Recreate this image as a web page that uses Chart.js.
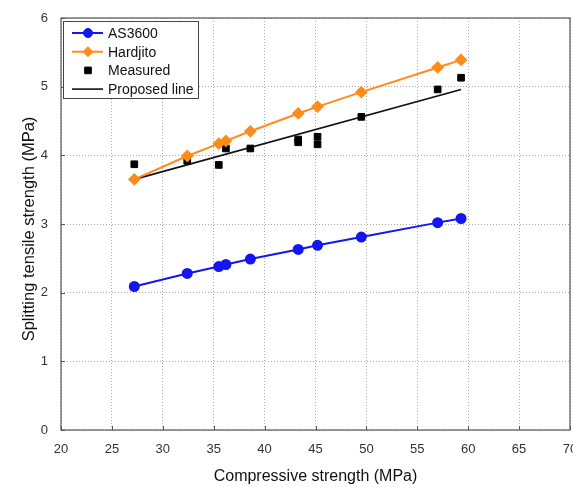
<!DOCTYPE html>
<html>
<head>
<meta charset="utf-8">
<script src="https://cdn.jsdelivr.net/npm/chart.js@4"></script>
<style>
  html, body { margin: 0; padding: 0; background: #fff; }
  #wrap { width: 573px; height: 487px; }
</style>
</head>
<body>
<div id="wrap"><canvas id="c" width="573" height="487"></canvas></div>
<script>
// 数据
const strength = [27.2, 32.4, 35.5, 36.2, 38.6, 43.3, 45.2, 49.5, 57.0, 59.3];
const as3600 = [2.09, 2.28, 2.38, 2.41, 2.49, 2.63, 2.69, 2.81, 3.02, 3.08];
const hardjito = [3.65, 3.99, 4.17, 4.21, 4.35, 4.61, 4.71, 4.92, 5.28, 5.39];
const measuredX = [27.2, 32.4, 35.5, 36.2, 38.6, 43.3, 43.3, 45.2, 45.2, 49.5, 57.0, 59.3];
const measuredY = [3.87, 3.92, 3.86, 4.10, 4.10, 4.23, 4.19, 4.27, 4.16, 4.56, 4.96, 5.13];
const proposedX = [27.2, 59.3];
const proposedY = [3.65, 4.96];
const xTicks = [20, 25, 30, 35, 40, 45, 50, 55, 60, 65, 70];
const yTicks = [0, 1, 2, 3, 4, 5, 6];
const yTitle = 'Splitting tensile strength (MPa)';

const FONT = '"Liberation Sans", Arial, sans-serif';

function pts(xs, ys) {
  return xs.map((x, i) => ({ x: x, y: ys[i] }));
}

// 去掉刻度标签带来的额外留白
function noPad(s) {
  s.paddingLeft = 0; s.paddingRight = 0;
  s.paddingTop = 0; s.paddingBottom = 0;
}

// 图框、刻度、纵轴标题和图例
const framePlugin = {
  id: 'frame',
  afterDraw(chart) {
    const ctx = chart.ctx;
    const a = chart.chartArea;
    const xs = chart.scales.x, ys = chart.scales.y;
    ctx.save();
    ctx.strokeStyle = '#555';
    ctx.lineWidth = 1.2;
    ctx.strokeRect(a.left, a.top, a.right - a.left, a.bottom - a.top);
    ctx.lineWidth = 1;
    ctx.beginPath();
    xTicks.forEach(v => {
      const px = Math.round(xs.getPixelForValue(v)) + 0.5;
      ctx.moveTo(px, a.bottom); ctx.lineTo(px, a.bottom - 4);
    });
    yTicks.forEach(v => {
      const py = Math.round(ys.getPixelForValue(v)) + 0.5;
      ctx.moveTo(a.left, py); ctx.lineTo(a.left + 4, py);
    });
    ctx.stroke();

    // 纵轴标题
    ctx.save();
    ctx.translate(29, 229);
    ctx.rotate(-Math.PI / 2);
    ctx.font = '16.5px ' + FONT;
    ctx.fillStyle = '#111';
    ctx.textAlign = 'center';
    ctx.textBaseline = 'middle';
    ctx.fillText(yTitle, 0, 0);
    ctx.restore();

    // 图例
    const lx = 63, ly = 21, lw = 135, lh = 77, rowH = 18.7;
    ctx.fillStyle = '#fff';
    ctx.fillRect(lx, ly, lw, lh);
    ctx.strokeStyle = '#444';
    ctx.strokeRect(lx + 0.5, ly + 0.5, lw, lh);
    ctx.font = '14px ' + FONT;
    ctx.textBaseline = 'middle';
    chart.data.datasets.forEach((ds, i) => {
      const cy = ly + 12 + i * rowH;
      if (ds.showLine !== false) {
        ctx.strokeStyle = ds.borderColor;
        ctx.lineWidth = ds.borderWidth;
        ctx.beginPath();
        ctx.moveTo(lx + 9, cy); ctx.lineTo(lx + 40, cy);
        ctx.stroke();
      }
      if (ds.pointRadius > 0) {
        ctx.fillStyle = ds.pointBackgroundColor;
        ctx.strokeStyle = ds.pointBorderColor;
        ctx.lineWidth = 1;
        Chart.helpers.drawPoint(ctx, { pointStyle: ds.pointStyle, radius: ds.pointRadius, borderWidth: 1 }, lx + 25, cy);
      }
      ctx.fillStyle = '#111';
      ctx.fillText(ds.label, lx + 45, cy + 1);
    });
    ctx.restore();
  }
};

new Chart(document.getElementById('c'), {
  type: 'scatter',
  data: {
    datasets: [
      {
        label: 'AS3600', data: pts(strength, as3600), showLine: true,
        borderColor: '#1515f0', borderWidth: 2,
        pointStyle: 'circle', pointRadius: 4.5,
        pointBackgroundColor: '#1515f0', pointBorderColor: '#1515f0'
      },
      {
        label: 'Hardjito', data: pts(strength, hardjito), showLine: true,
        borderColor: '#ff8c1a', borderWidth: 2,
        pointStyle: 'rectRot', pointRadius: 5,
        pointBackgroundColor: '#ff8c1a', pointBorderColor: '#ff8c1a'
      },
      {
        label: 'Measured', data: pts(measuredX, measuredY), showLine: false,
        borderColor: '#000', borderWidth: 1,
        pointStyle: 'rect', pointRadius: 4.7,
        pointBackgroundColor: '#000', pointBorderColor: '#000'
      },
      {
        label: 'Proposed line', data: pts(proposedX, proposedY), showLine: true,
        borderColor: '#111', borderWidth: 1.6,
        pointRadius: 0, pointStyle: false
      }
    ]
  },
  options: {
    responsive: false,
    animation: false,
    layout: { autoPadding: false, padding: { top: 18, right: 3, left: 0, bottom: 0 } },
    plugins: { legend: { display: false }, tooltip: { enabled: false } },
    scales: {
      x: {
        type: 'linear', min: 20, max: 70,
        afterBuildTicks(s) { s.ticks = xTicks.map(v => ({ value: v })); },
        afterFit(s) { s.height = 57; noPad(s); },
        grid: { color: '#aaa', drawTicks: false },
        border: { display: false, dash: [1, 2] },
        ticks: { font: { size: 13, family: FONT }, color: '#333', padding: 12 },
        title: {
          display: true, text: 'Compressive strength (MPa)',
          font: { size: 16, family: FONT }, color: '#111',
          padding: { top: 0, bottom: 1 }
        }
      },
      y: {
        type: 'linear', min: 0, max: 6,
        afterBuildTicks(s) { s.ticks = yTicks.map(v => ({ value: v })); },
        afterFit(s) { s.width = 61; noPad(s); },
        grid: { color: '#aaa', drawTicks: false },
        border: { display: false, dash: [1, 2] },
        ticks: { font: { size: 13, family: FONT }, color: '#333', padding: 13 }
      }
    }
  },
  plugins: [framePlugin]
});
</script>
</body>
</html>
